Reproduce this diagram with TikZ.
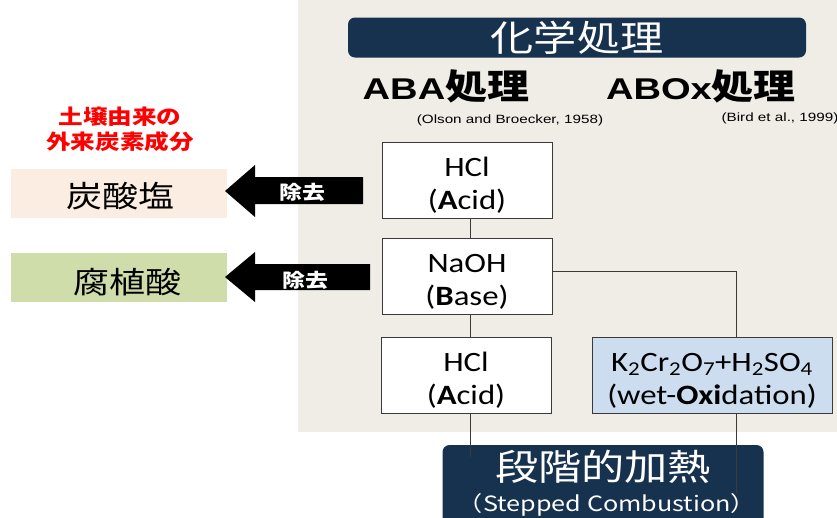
\documentclass[tikz,border=0pt]{standalone}
\usepackage{fontspec}
\newfontfamily\jp[FakeStretch=1.2]{Noto Sans CJK JP}
\newfontfamily\lat[FakeStretch=1.17]{Carlito}
\newfontfamily\arl[FakeStretch=1.27]{Liberation Sans}
\definecolor{beige}{HTML}{F0EDE7}
\definecolor{navy}{HTML}{17324F}
\definecolor{lblue}{HTML}{CCDDF0}
\definecolor{peach}{HTML}{FCEDE2}
\definecolor{lgreen}{HTML}{CFDDAA}
\definecolor{boxline}{HTML}{3A3A3A}
\newcommand\tp{\rule{0pt}{30pt}}
\tikzset{
  bar/.style={fill=navy, rounded corners=7pt, inner sep=0pt},
  cbox/.style={draw=boxline, line width=1pt, fill=white, minimum width=170pt, minimum height=76pt, inner sep=0pt, align=center, font=\lat\fontsize{28}{33}\selectfont},
  conn/.style={draw=boxline, line width=1pt},
  blockarrow/.style={fill=black},
  kind/.style={inner sep=0pt, minimum width=216pt, minimum height=49pt},
  kindtext/.style={inner sep=0pt, font=\jp\fontsize{30}{32}\selectfont},
  rem/.style={text=white, inner sep=0pt, font=\jp\bfseries\fontsize{19}{20}\selectfont},
  head/.style={inner sep=0pt},
  cit/.style={inner sep=0pt, font=\arl\fontsize{12}{13}\selectfont},
}
\newcommand\hd[1]{{\arl\bfseries\fontsize{30}{31}\selectfont #1}{\jp\bfseries\fontsize{35}{36}\selectfont 処理}}
\begin{document}
\begin{tikzpicture}[x=1pt,y=-1pt]
\useasboundingbox (0,0) rectangle (837,517);
\clip (0,0) rectangle (837,517);
% panel
\fill[beige] (298,0) rectangle (837,432);
% title
\node[bar, minimum width=458pt, minimum height=40pt] (title) at (577,37.5) {};
\node[text=white, inner sep=0pt, font=\jp\fontsize{36}{38}\selectfont] (titletext) at (title.center) {化学処理};
% headings
\node[head] (aba) at (446,86) {\hd{ABA}};
\node[head] (abox) at (701,86) {\hd{ABOx}};
\node[cit] (cit1) at (510,120) {(Olson and Broecker, 1958)};
\node[cit] (cit2) at (780,118) {(Bird et al., 1999)};
% boxes
\node[cbox] (b1) at (467,180) {\tp HCl\\(\textbf{A}cid)};
\node[cbox] (b2) at (467,276) {\tp NaOH\\(\textbf{B}ase)};
\node[cbox] (b3) at (466,375) {\tp HCl\\(\textbf{A}cid)};
\node[cbox, fill=lblue, minimum width=240pt] (b4) at (712,375) {\tp K\textsubscript{2}Cr\textsubscript{2}O\textsubscript{7}+H\textsubscript{2}SO\textsubscript{4}\\(wet-\textbf{Oxi}dation)};
% bottom bar
\node[bar, minimum width=321pt, minimum height=92pt] (bot) at (603,491) {};
\node[text=white, inner sep=0pt, font=\jp\fontsize{36}{38}\selectfont] (bot1) at (603,467) {段階的加熱};
\node[text=white, inner sep=0pt, font=\jp\fontsize{21}{22}\selectfont] (bot2) at (607,505) {（Stepped Combustion）};
% connectors
\coordinate (v) at (470,0);
\coordinate (j) at (736,271);
\coordinate (e3) at (470,457);
\coordinate (e4) at (736,493);
\draw[conn] (b1.south -| v) -- (b2.north -| v);
\draw[conn] (b2.south -| v) -- (b3.north -| v);
\draw[conn] (b2.east |- j) -- (j) -- (j |- b4.north);
\draw[conn] (b3.south -| e3) -- (e3);
\draw[conn] (j |- b4.south) -- (e4);
% left side
\node[text=red, inner sep=0pt, align=center, font=\jp\bfseries\fontsize{20.5}{25}\selectfont] (src) at (120,129.5) {土壌由来の\\外来炭素成分};
\node[kind, fill=peach] (carb) at (119,193.5) {};
\node[kindtext] (carbt) at (120,196) {炭酸塩};
\node[kind, fill=lgreen] (humic) at (119,277) {};
\node[kindtext] (humict) at (127,282) {腐植酸};
% block arrows
\fill[blockarrow] (225,191) -- (255,165) -- (255,177) -- (363,177) -- (363,204) -- (255,204) -- (255,217) -- cycle;
\node[rem] (r1) at (302,192) {除去};
\fill[blockarrow] (225,277) -- (255,252) -- (255,264) -- (370,264) -- (370,290) -- (255,290) -- (255,302) -- cycle;
\node[rem] (r2) at (305,280) {除去};
\end{tikzpicture}
\end{document}
